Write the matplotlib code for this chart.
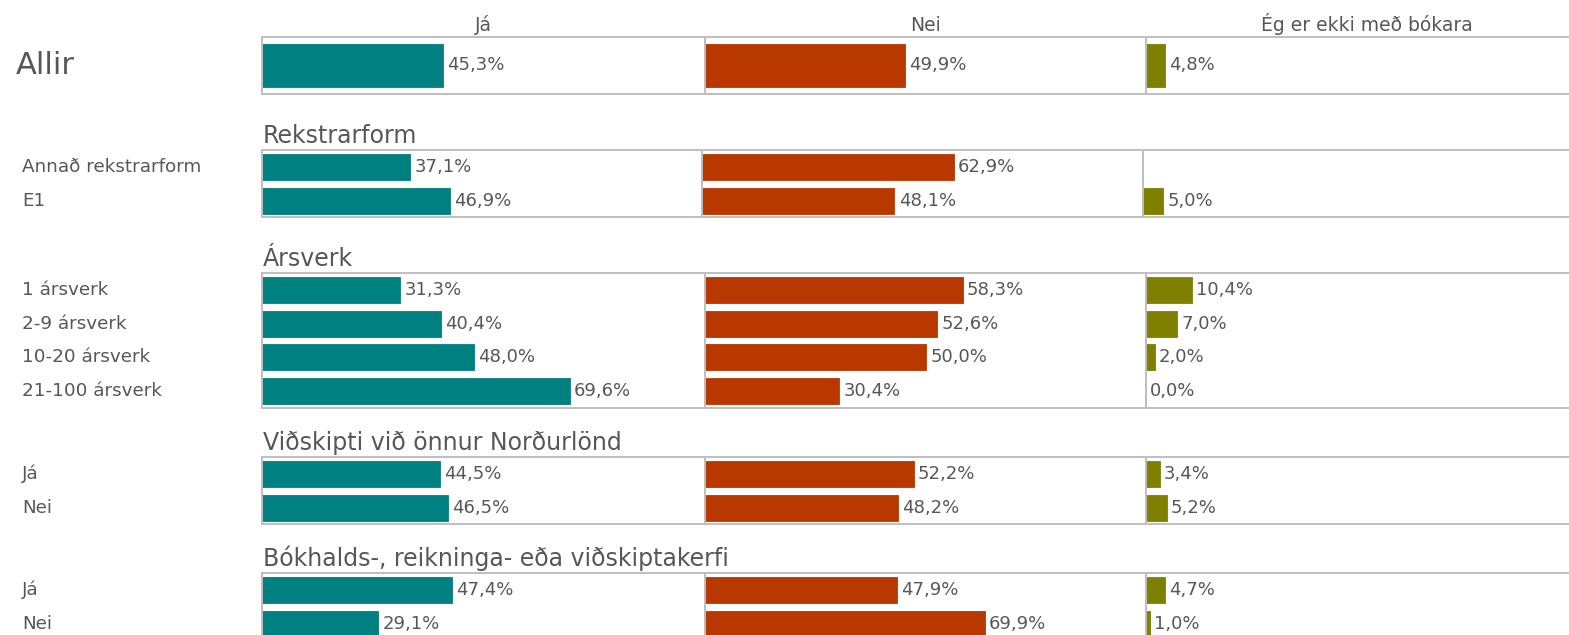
import matplotlib.pyplot as plt

W, H = 1569, 635
plt.rcParams['font.family'] = ['DejaVu Sans']

# ---------------- data ----------------
columns = ["Já", "Nei", "Ég er ekki með bókara"]
colors = ["#008080", "#B83800", "#808000"]

allir_label = "Allir"
allir_ja = [45.3]
allir_nei = [49.9]
allir_eg = [4.8]

rekstur_title = "Rekstrarform"
rekstur_labels = ["Annað rekstrarform", "E1"]
rekstur_ja = [37.1, 46.9]
rekstur_nei = [62.9, 48.1]
rekstur_eg = [None, 5.0]

arsverk_title = "Ársverk"
arsverk_labels = ["1 ársverk", "2-9 ársverk", "10-20 ársverk", "21-100 ársverk"]
arsverk_ja = [31.3, 40.4, 48.0, 69.6]
arsverk_nei = [58.3, 52.6, 50.0, 30.4]
arsverk_eg = [10.4, 7.0, 2.0, 0.0]

nord_title = "Viðskipti við önnur Norðurlönd"
nord_labels = ["Já", "Nei"]
nord_ja = [44.5, 46.5]
nord_nei = [52.2, 48.2]
nord_eg = [3.4, 5.2]

kerfi_title = "Bókhalds-, reikninga- eða viðskiptakerfi"
kerfi_labels = ["Já", "Nei"]
kerfi_ja = [47.4, 29.1]
kerfi_nei = [47.9, 69.9]
kerfi_eg = [4.7, 1.0]

groups = [
    (None, [allir_label], [allir_ja, allir_nei, allir_eg]),
    (rekstur_title, rekstur_labels, [rekstur_ja, rekstur_nei, rekstur_eg]),
    (arsverk_title, arsverk_labels, [arsverk_ja, arsverk_nei, arsverk_eg]),
    (nord_title, nord_labels, [nord_ja, nord_nei, nord_eg]),
    (kerfi_title, kerfi_labels, [kerfi_ja, kerfi_nei, kerfi_eg]),
]

# ---------------- layout (pixels) ----------------
box_tops = [37, 150, 273, 457, 573]
row_pitch = 33.7
allir_height = 57
group_col_edges = [
    [262, 705, 1146, 1600],
    [262, 702, 1143, 1600],
    [262, 705, 1146, 1600],
    [262, 705, 1146, 1600],
    [262, 705, 1146, 1600],
]
px_per_unit = [4.0, 4.0, 4.42, 4.0, 4.0]
TEXT = "#575757"
BORDER = "#BFBFBF"

fig = plt.figure(figsize=(W / 100, H / 100), dpi=100)


def fig_rect(x, y_top, w, h):
    return [x / W, 1 - (y_top + h) / H, w / W, h / H]


def fmt(v):
    return f"{v:.1f}".replace(".", ",") + "%"


for gi, (title, labels, series) in enumerate(groups):
    n = len(labels)
    top = box_tops[gi]
    h = allir_height if title is None else n * row_pitch
    edges = group_col_edges[gi]
    for ci in range(3):
        x0, x1 = edges[ci], edges[ci + 1]
        wpx = x1 - x0
        ax = fig.add_axes(fig_rect(x0, top, wpx, h))
        vals = series[ci]
        ys = list(range(n))
        widths = [0 if v is None else v for v in vals]
        ax.barh(ys, widths, height=0.77, color=colors[ci],
                edgecolor=[colors[ci] if v is not None else 'none' for v in vals],
                linewidth=0.6)
        for y, v in zip(ys, vals):
            if v is None:
                continue
            ax.annotate(fmt(v), (v, y), xytext=(3, 0), textcoords='offset points',
                        ha='left', va='center', fontsize=13, color=TEXT)
        ax.set_xlim(0, wpx / px_per_unit[gi])
        ax.set_ylim(n - 0.5, -0.5)
        ax.set_xticks([])
        ax.set_yticks([])
        for s in ax.spines.values():
            s.set_color(BORDER)
            s.set_linewidth(1.4)
        if gi == 0:
            xc = (x0 + min(x1, 1587)) / 2 / W
            fig.text(xc, 1 - (top - 2) / H, columns[ci], fontsize=13.5,
                     color=TEXT, ha='center', va='bottom')
    # row labels
    if title is None:
        fig.text(16 / W, 1 - (top + h / 2) / H, labels[0], fontsize=22,
                 color=TEXT, ha='left', va='center')
    else:
        fig.text(263 / W, 1 - (top - 2) / H, title, fontsize=17, color=TEXT,
                 ha='left', va='bottom')
        for i, lab in enumerate(labels):
            yc = top + (i + 0.5) * row_pitch
            fig.text(22 / W, 1 - yc / H, lab, fontsize=13.2, color=TEXT,
                     ha='left', va='center')

fig.savefig("out.png", dpi=100)
